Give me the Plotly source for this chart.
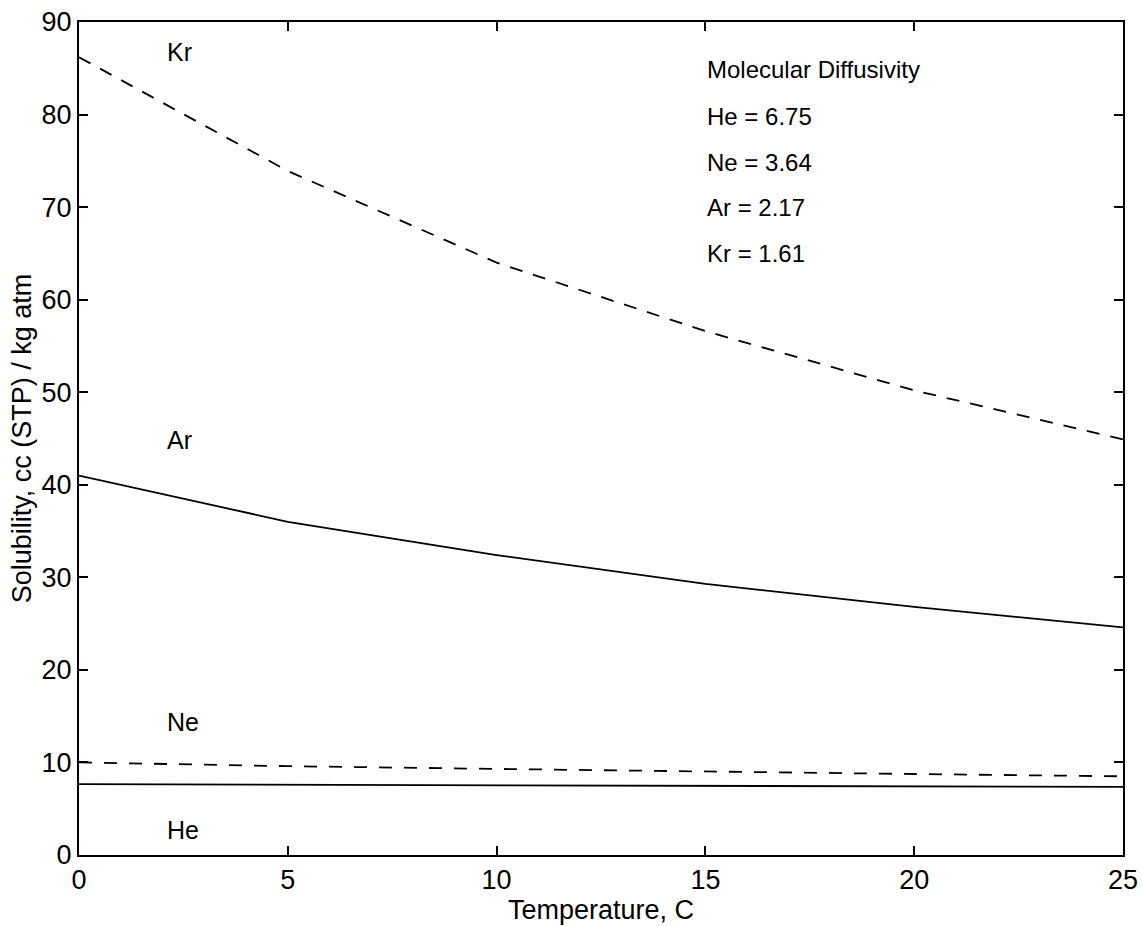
import plotly.graph_objects as go

# Temperature, C
temperature = [0, 5, 10, 15, 20, 25]

# Solubility, cc (STP) / kg atm
kr_solubility = [86.2, 73.9, 64.0, 56.6, 50.2, 44.9]
ar_solubility = [41.0, 36.0, 32.4, 29.3, 26.8, 24.6]
ne_solubility = [10.0, 9.6, 9.3, 9.0, 8.75, 8.5]
he_solubility = [7.65, 7.6, 7.5, 7.45, 7.4, 7.35]

gas_labels = ["Kr", "Ar", "Ne", "He"]
gas_label_y = [86.8, 44.8, 14.4, 2.7]

diffusivity_lines = ["Molecular Diffusivity", "He = 6.75", "Ne = 3.64", "Ar = 2.17", "Kr = 1.61"]
diffusivity_y = [84.9, 79.8, 74.8, 70.0, 65.0]

FONT = "Liberation Sans, Arial, Helvetica, sans-serif"

fig = go.Figure()
series = [
    (kr_solubility, "13px,11px"),
    (ar_solubility, "solid"),
    (ne_solubility, "13px,12px"),
    (he_solubility, "solid"),
]
for values, dash in series:
    fig.add_trace(go.Scatter(
        x=temperature, y=values, mode="lines",
        line=dict(color="black", width=1.8, dash=dash),
        showlegend=False, hoverinfo="skip",
    ))

for label, y in zip(gas_labels, gas_label_y):
    fig.add_annotation(x=2.05, y=y, text=label, showarrow=False,
                       xanchor="left", yanchor="middle",
                       font=dict(family=FONT, size=25, color="black"))

for line, y in zip(diffusivity_lines, diffusivity_y):
    fig.add_annotation(x=15.0, y=y, text=line, showarrow=False,
                       xanchor="left", yanchor="middle",
                       font=dict(family=FONT, size=24, color="black"))

axis_common = dict(
    showgrid=False, zeroline=False, showline=True, linecolor="black",
    linewidth=2, mirror="ticks", ticks="inside", ticklen=9, tickwidth=1.6,
    tickcolor="black", tickfont=dict(family=FONT, size=27, color="black"),
    automargin=False,
)

fig.update_xaxes(range=[0, 25], tickvals=[0, 5, 10, 15, 20, 25],
                 title=dict(text="Temperature, C", standoff=2,
                            font=dict(family=FONT, size=27, color="black")),
                 **axis_common)
fig.update_yaxes(range=[0, 90], tickvals=list(range(0, 91, 10)),
                 title=dict(text="Solubility, cc (STP) / kg atm", standoff=2,
                            font=dict(family=FONT, size=27, color="black")),
                 **axis_common)

fig.update_layout(
    width=1142, height=926,
    margin=dict(l=79, r=19, t=22, b=71),
    plot_bgcolor="white", paper_bgcolor="white",
)

fig.write_html("out.html")
